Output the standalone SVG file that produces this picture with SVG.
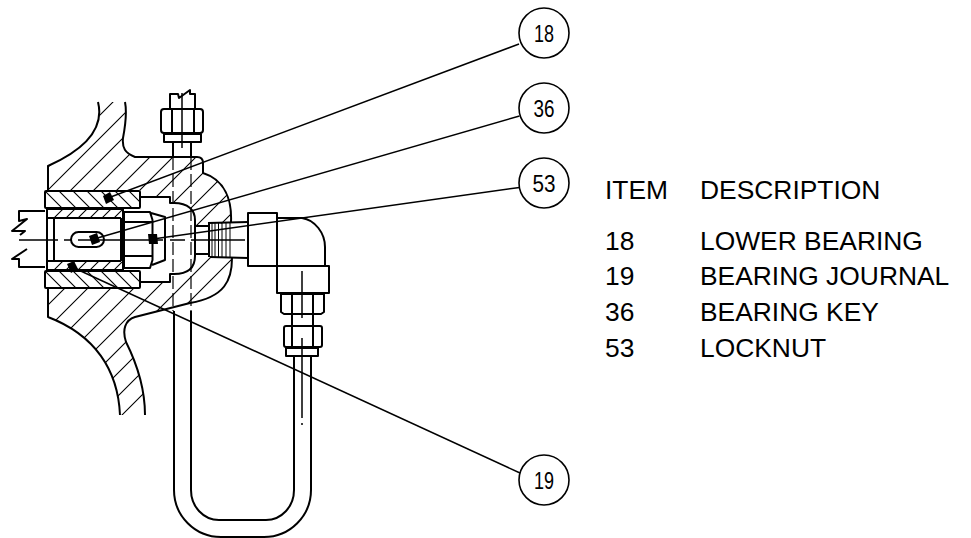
<svg xmlns="http://www.w3.org/2000/svg" width="971" height="538" viewBox="0 0 971 538">
<style>
.m{fill:none;stroke:#000;stroke-width:2;stroke-linejoin:round}
.t{fill:none;stroke:#000;stroke-width:1}
.l{fill:none;stroke:#000;stroke-width:1.5}
.h{fill:none;stroke:#000;stroke-width:1.1}
.d{fill:none;stroke:#000;stroke-width:1.2;stroke-dasharray:13 4}
.b{fill:#fff;stroke:#000;stroke-width:1.6}
.n{font-family:"Liberation Sans",Arial,sans-serif;font-size:24px;fill:#000;text-anchor:middle}
.c{font-family:"Liberation Sans",Arial,sans-serif;font-size:26.4px;fill:#000}
.s{fill:#000}
</style>
<defs>
<clipPath id="hc"><path d="M98,102C103,122 95,145 48,166V190H140V197H170V203H174C188,203 195,210 195,220V226H208L231,222C232,200 225,180 203,173V163Q203,157 197,157H135C125,153 122,148 123,138C127,120 126,110 125,102ZM48,288H140V282H170V274H174C188,274 195,268 195,256H210L232,258C232,280 225,297 190,303L135,317C125,320 122,330 126,342C135,360 145,385 145,415H120C118,370 95,335 48,317Z"/></clipPath>
<clipPath id="bt"><rect x="46" y="191" width="94" height="17"/></clipPath>
<clipPath id="bb"><rect x="46" y="271" width="94" height="17"/></clipPath>
<clipPath id="jt"><rect x="47" y="209" width="75" height="9"/></clipPath>
<clipPath id="jb"><rect x="47" y="261" width="75" height="9"/></clipPath>
</defs>

<g id="housing">
<path class="m" d="M98,102C103,122 95,145 48,166V190M125,102C127,112 126,122 123,138C122,148 125,153 135,157H197Q203,157 203,163V173C225,180 232,200 231,222M232,258C232,280 225,297 190,303L135,317C125,320 122,330 126,342C135,360 145,385 145,415M48,288V317C95,335 118,370 120,415"/>
<path class="h" clip-path="url(#hc)" d="M215,0L0,215M238,0L0,238M261,0L0,261M284,0L0,284M307,0L0,307M330,0L0,330M353,0L0,353M376,0L0,376M399,0L0,399M422,0L0,422M445,0L0,445M468,0L0,468M491,0L0,491M514,0L0,514M537,0L0,537"/>
<path class="m" d="M140,197H170V203H174C188,203 195,210 195,220V256C195,268 188,274 174,274H170V282H140"/>
</g>

<g id="bearing">
<rect class="m" x="45" y="191" width="95" height="17" rx="1"/>
<rect class="m" x="45" y="271" width="95" height="17" rx="1"/>
<path class="h" clip-path="url(#bt)" d="M40,186L66,212M54,186L80,212M68,186L94,212M82,186L108,212M96,186L122,212M110,186L136,212M124,186L150,212"/>
<path class="h" clip-path="url(#bb)" d="M40,266L66,292M54,266L80,292M68,266L94,292M82,266L108,292M96,266L122,292M110,266L136,292M124,266L150,292"/>
</g>

<g id="journal">
<path class="m" d="M47,209H123V270H47ZM47,218H121M47,261H121M54,218V261M121,218V261"/>
<path class="h" clip-path="url(#jt)" d="M50,222L66,206M62,222L78,206M74,222L90,206M86,222L102,206M98,222L114,206M110,222L126,206"/>
<path class="h" clip-path="url(#jb)" d="M50,274L66,258M62,274L78,258M74,274L90,258M86,274L102,258M98,274L114,258M110,274L126,258"/>
<rect class="m" x="71" y="232" width="33" height="15" rx="7.5"/>
</g>

<g id="shaft">
<path class="m" d="M45,211H19V221L27,219L12,231H25L20,235M45,267H19V259H12L27,249"/>
<path class="l" d="M19,240H58M64,240H72M78,240H163M170,240H185M191,240H194M195,240H245"/>
</g>

<g id="locknut">
<path class="m" d="M124,212H150L152.500,220V260L150,268H124ZM124,222H152M124,256H152M151,213L165,217V260L152,265"/>
</g>

<g id="fitting">
<path class="d" d="M173,157V311M191,157V311"/>
<path class="m" d="M195,226H208M195,254H208M208,223L248,222M210,257L248,258M209,223V257"/>
<path class="t" d="M212,223V257M215,223V257M218.500,223V257M222,223V257M226,223V257M230,223V257"/>
<rect class="m" x="248" y="213" width="29" height="53"/>
<path class="m" d="M277,218H302C315,220 325,233 325,247V266"/>
<rect class="m" x="277" y="266" width="52" height="27"/>
<path class="m" d="M281,294H324V312L321,314H284L281,312ZM292,294V326M313,294V326"/>
<rect class="m" x="284" y="326" width="38" height="21" rx="2"/>
<path class="m" d="M292,326V347M313,326V347"/>
<rect class="m" x="286" y="348" width="32" height="8"/>
<path class="l" d="M302,271V318M302,338V418M302,423V425"/>
<path class="m" d="M294,356V490M311,356V490"/>
</g>

<g id="pipe">
<path class="m" d="M174,311V490A47,47 0 0 0 221,537H264A47,47 0 0 0 311,490M191,311V490A28,30 0 0 0 219,520H266A28,30 0 0 0 294,490"/>
</g>

<g id="upper-nut">
<path class="m" d="M170,109V94H178L179,98L190,90V94H195V109"/>
<rect class="m" x="161" y="109" width="42" height="24" rx="3"/>
<path class="m" d="M172,109V133M194,109V133"/>
<rect class="m" x="164" y="134" width="37" height="8"/>
<path class="m" d="M173,142V157M191,142V157"/>
<path class="l" d="M182,93V148"/>
</g>

<g id="connectors">
<line class="l" x1="519" y1="44" x2="108" y2="198"/>
<line class="l" x1="519.500" y1="116" x2="94" y2="239"/>
<line class="l" x1="519.500" y1="187.500" x2="153" y2="239"/>
<line class="l" x1="520" y1="473" x2="72" y2="267"/>
<polygon class="s" points="103,196 110,192 114,200 106,204"/>
<polygon class="s" points="89,236 97,233 100,242 92,245"/>
<polygon class="s" points="148,234 157,234 158,244 149,244"/>
<polygon class="s" points="67,264 74,261 78,269 71,273"/>
</g>

<g id="callout-18"><circle class="b" cx="544" cy="33" r="25"/><text class="n" x="544" y="42" textLength="20" lengthAdjust="spacingAndGlyphs">18</text></g>
<g id="callout-36"><circle class="b" cx="544" cy="108" r="25"/><text class="n" x="544" y="117" textLength="21" lengthAdjust="spacingAndGlyphs">36</text></g>
<g id="callout-53"><circle class="b" cx="544" cy="183" r="25"/><text class="n" x="544" y="192" textLength="23" lengthAdjust="spacingAndGlyphs">53</text></g>
<g id="callout-19"><circle class="b" cx="544" cy="480" r="25"/><text class="n" x="544" y="489" textLength="20" lengthAdjust="spacingAndGlyphs">19</text></g>

<g id="legend">
<text class="c" x="605" y="199">ITEM</text><text class="c" x="700" y="199">DESCRIPTION</text>
<text class="c" x="605" y="250">18</text><text class="c" x="700" y="250">LOWER BEARING</text>
<text class="c" x="605" y="285">19</text><text class="c" x="700" y="285">BEARING JOURNAL</text>
<text class="c" x="605" y="321">36</text><text class="c" x="700" y="321">BEARING KEY</text>
<text class="c" x="605" y="357">53</text><text class="c" x="700" y="357">LOCKNUT</text>
</g>
</svg>
